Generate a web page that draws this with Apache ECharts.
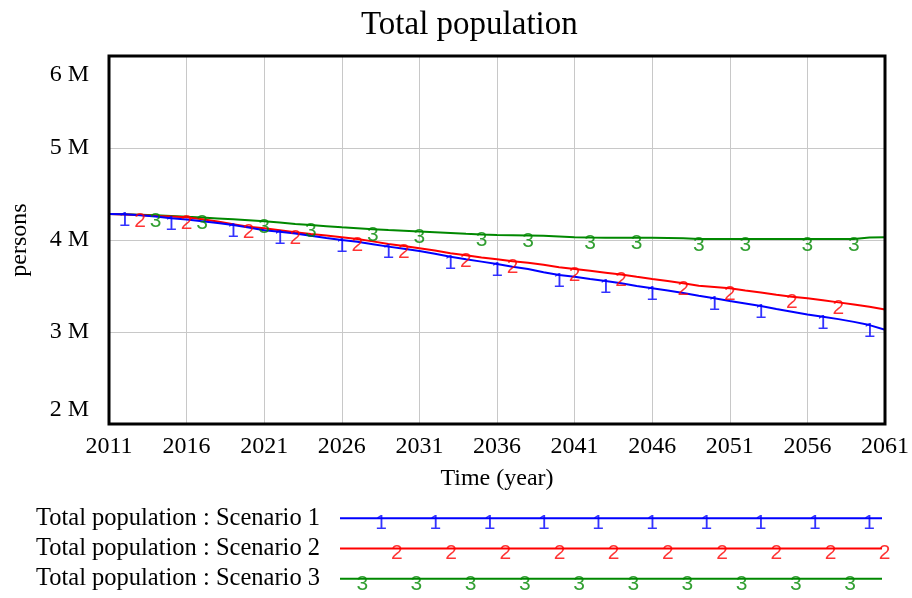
<!DOCTYPE html>
<html>
<head>
<meta charset="utf-8">
<script src="https://cdn.jsdelivr.net/npm/echarts@6/dist/echarts.min.js"></script>
<style>
  html, body { margin: 0; padding: 0; background: #fff; }
  #chart { width: 912px; height: 598px; }
</style>
</head>
<body>
<div id="chart"></div>
<script>
// years of the run
const years = [2011, 2012, 2013, 2014, 2015, 2016, 2017, 2018, 2019, 2020,
  2021, 2022, 2023, 2024, 2025, 2026, 2027, 2028, 2029, 2030,
  2031, 2032, 2033, 2034, 2035, 2036, 2037, 2038, 2039, 2040,
  2041, 2042, 2043, 2044, 2045, 2046, 2047, 2048, 2049, 2050,
  2051, 2052, 2053, 2054, 2055, 2056, 2057, 2058, 2059, 2060, 2061];

// Total population, millions of persons
const scenario1 = [4.283, 4.280, 4.270, 4.255, 4.236, 4.222, 4.205, 4.185, 4.163, 4.135,
  4.105, 4.090, 4.070, 4.045, 4.022, 4.000, 3.980, 3.955, 3.928, 3.905,
  3.880, 3.850, 3.818, 3.790, 3.765, 3.740, 3.710, 3.685, 3.650, 3.620,
  3.600, 3.575, 3.554, 3.530, 3.500, 3.475, 3.450, 3.425, 3.395, 3.366,
  3.337, 3.310, 3.283, 3.250, 3.220, 3.190, 3.166, 3.140, 3.110, 3.075, 3.025];
const scenario2 = [4.283, 4.278, 4.272, 4.262, 4.255, 4.246, 4.225, 4.200, 4.172, 4.145,
  4.127, 4.105, 4.083, 4.065, 4.048, 4.030, 4.012, 3.985, 3.957, 3.935,
  3.910, 3.885, 3.855, 3.835, 3.810, 3.790, 3.770, 3.753, 3.730, 3.705,
  3.685, 3.665, 3.645, 3.625, 3.600, 3.576, 3.555, 3.530, 3.503, 3.490,
  3.475, 3.450, 3.430, 3.405, 3.384, 3.366, 3.345, 3.322, 3.300, 3.275, 3.245];
const scenario3 = [4.283, 4.280, 4.275, 4.270, 4.262, 4.253, 4.245, 4.235, 4.225, 4.215,
  4.203, 4.190, 4.175, 4.162, 4.150, 4.138, 4.128, 4.118, 4.108, 4.100,
  4.092, 4.085, 4.077, 4.068, 4.060, 4.054, 4.052, 4.050, 4.045, 4.038,
  4.030, 4.026, 4.025, 4.025, 4.025, 4.025, 4.022, 4.018, 4.012, 4.010,
  4.010, 4.010, 4.010, 4.010, 4.010, 4.010, 4.010, 4.010, 4.010, 4.028, 4.030];

// years where the run numbers are printed on each line
const marks1 = [2012, 2015, 2019, 2022, 2026, 2029, 2033, 2036, 2040, 2043, 2046, 2050, 2053, 2057, 2060];
const marks2 = [2013, 2016, 2020, 2023, 2027, 2030, 2034, 2037, 2041, 2044, 2048, 2051, 2055, 2058];
const marks3 = [2014, 2017, 2021, 2024, 2028, 2031, 2035, 2038, 2042, 2045, 2049, 2052, 2056, 2059];

const yTicks = [2, 3, 4, 5, 6];
const legendNames = ['Total population : Scenario 1', 'Total population : Scenario 2', 'Total population : Scenario 3'];

const startYear = years[0];
const serif = 'Liberation Serif';
const sans = 'Liberation Sans';
const colors = ['#0000ff', '#ff0000', '#008800'];

function lineData(vals) {
  return years.map((y, i) => [y - startYear, vals[i] * 1e6]);
}
function markData(vals, marks) {
  return years.map((y, i) => [y - startYear, vals[i] * 1e6]).filter((d, i) => marks.indexOf(years[i]) >= 0);
}
function markLabel(txt, color, dy) {
  return {
    show: true, position: 'inside', offset: [0, dy], formatter: txt,
    color: color, fontFamily: sans, fontSize: 21
  };
}

// legend rows: sample line with the run number repeated along it
const legendStart = [0.76, 1.05, 0.41];
function legendMarks(row) {
  const out = [];
  for (let k = 0; k < 10; k++) out.push([legendStart[row] + k, row]);
  return out;
}

const chart = echarts.init(document.getElementById('chart'));
const series = [];
[scenario1, scenario2, scenario3].forEach((vals, i) => {
  series.push({
    type: 'line', xAxisIndex: 0, yAxisIndex: 0, data: lineData(vals),
    symbol: 'none', lineStyle: { color: colors[i], width: 2 }, z: 5 - i, animation: false
  });
});
[[scenario1, marks1], [scenario2, marks2], [scenario3, marks3]].forEach((p, i) => {
  series.push({
    type: 'scatter', xAxisIndex: 0, yAxisIndex: 0, data: markData(p[0], p[1]),
    symbol: 'circle', symbolSize: 1, itemStyle: { color: 'transparent' },
    label: markLabel(String(i + 1), colors[i], 6), z: 6, animation: false, silent: true
  });
});
[0, 1, 2].forEach(i => {
  series.push({
    type: 'line', xAxisIndex: 1, yAxisIndex: 1, data: [[0, i], [10, i]],
    symbol: 'none', lineStyle: { color: colors[i], width: 2 }, animation: false, silent: true
  });
  series.push({
    type: 'scatter', xAxisIndex: 1, yAxisIndex: 1, data: legendMarks(i), clip: false,
    symbol: 'circle', symbolSize: 1, itemStyle: { color: 'transparent' },
    label: markLabel(String(i + 1), colors[i], 5), animation: false, silent: true
  });
});

chart.setOption({
  backgroundColor: '#fff',
  title: {
    text: 'Total population', left: 356, top: 4,
    textStyle: { fontFamily: serif, fontSize: 33, fontWeight: 'normal', color: '#000' }
  },
  grid: [
    { left: 109, right: 26, top: 56, bottom: 174, show: true, borderColor: '#000', borderWidth: 3, backgroundColor: 'transparent', z: 10 },
    { left: 340, right: 30, top: 503, bottom: 4 }
  ],
  xAxis: [
    {
      type: 'value', gridIndex: 0, min: 0, max: years[years.length - 1] - startYear, interval: 5,
      name: 'Time (year)', nameLocation: 'middle', nameGap: 43,
      nameTextStyle: { fontFamily: serif, fontSize: 24, color: '#000' },
      axisLine: { show: false }, axisTick: { show: false },
      axisLabel: { formatter: v => String(v + startYear), fontFamily: serif, fontSize: 24, color: '#000', margin: 11 },
      splitLine: { show: true, lineStyle: { color: '#c8c8c8', width: 1 } }
    },
    { type: 'value', gridIndex: 1, min: 0, max: 10, show: false }
  ],
  yAxis: [
    {
      type: 'value', gridIndex: 0, min: yTicks[0] * 1e6, max: yTicks[yTicks.length - 1] * 1e6, interval: 1e6,
      name: 'persons', nameLocation: 'middle', nameGap: 77, nameRotate: 90,
      nameTextStyle: { fontFamily: serif, fontSize: 24, color: '#000' },
      axisLine: { show: false }, axisTick: { show: false },
      axisLabel: {
        fontFamily: serif, fontSize: 24, color: '#000', margin: 20,
        formatter: v => {
          const t = (v / 1e6) + ' M';
          if (v === yTicks[yTicks.length - 1] * 1e6) return '{hi|' + t + '}';
          if (v === yTicks[0] * 1e6) return '{lo|' + t + '}';
          return t;
        },
        rich: {
          hi: { fontFamily: serif, fontSize: 24, color: '#000', padding: [38, 0, 0, 0] },
          lo: { fontFamily: serif, fontSize: 24, color: '#000', padding: [0, 0, 28, 0] }
        }
      },
      splitLine: { show: true, lineStyle: { color: '#c8c8c8', width: 1 } }
    },
    {
      type: 'category', gridIndex: 1, data: legendNames, inverse: true,
      axisLine: { show: false }, axisTick: { show: false }, splitLine: { show: false },
      axisLabel: { interval: 0, fontFamily: serif, fontSize: 24.5, color: '#000', margin: 20 }
    }
  ],
  series: series
});
</script>
</body>
</html>
